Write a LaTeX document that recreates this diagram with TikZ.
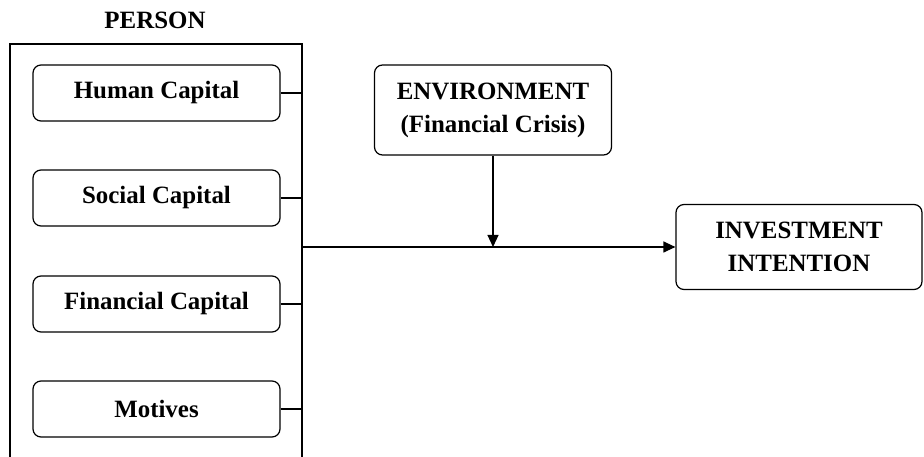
\documentclass[tikz,border=0pt]{standalone}
\usepackage{fontspec}
\setmainfont{Liberation Serif}
\usetikzlibrary{arrows.meta}

\tikzset{
  factor/.style={draw,line width=1.2bp,rounded corners=8bp,minimum width=247bp,minimum height=56bp,
    inner sep=0pt,font=\bfseries\fontsize{25}{33}\selectfont},
  bigbox/.style={factor,align=center},
  feed/.style={line width=1.2bp},
  arr/.style={line width=1.2bp,-{Triangle[length=12bp,width=11bp]}}
}

\begin{document}
\begin{tikzpicture}[x=1bp,y=-1bp]
      \useasboundingbox (0,0) rectangle (924,457);
      \node[font=\bfseries\fontsize{25}{33}\selectfont] (person) at (155,20) {PERSON};
      % outer frame, open at the bottom edge
      \coordinate (frametl) at (10,44);
      \coordinate (bus) at (302,44);
      \draw[feed] (10,460) -- (frametl) -- (bus) -- (302,460);
      \node[factor] (hc) at (156.5,93) {Human Capital};
      \node[factor] (sc) at (156.5,198) {Social Capital};
      \node[factor] (fc) at (156.5,304) {Financial Capital};
      \node[factor] (mot) at (156.5,409) {Motives};
      \draw[feed] (hc.east) -- (hc.east -| bus);
      \draw[feed] (sc.east) -- (sc.east -| bus);
      \draw[feed] (fc.east) -- (fc.east -| bus);
      \draw[feed] (mot.east) -- (mot.east -| bus);
      \node[bigbox,minimum width=237bp,minimum height=90bp] (env) at (493,110) {ENVIRONMENT\\(Financial Crisis)};
      \node[bigbox,minimum width=246bp,minimum height=85bp] (inv) at (799,247) {INVESTMENT\\INTENTION};
      \draw[arr] (bus |- inv.west) -- (inv.west);
      \draw[arr] (env.south) -- (env.south |- inv.west);
\end{tikzpicture}
\end{document}
